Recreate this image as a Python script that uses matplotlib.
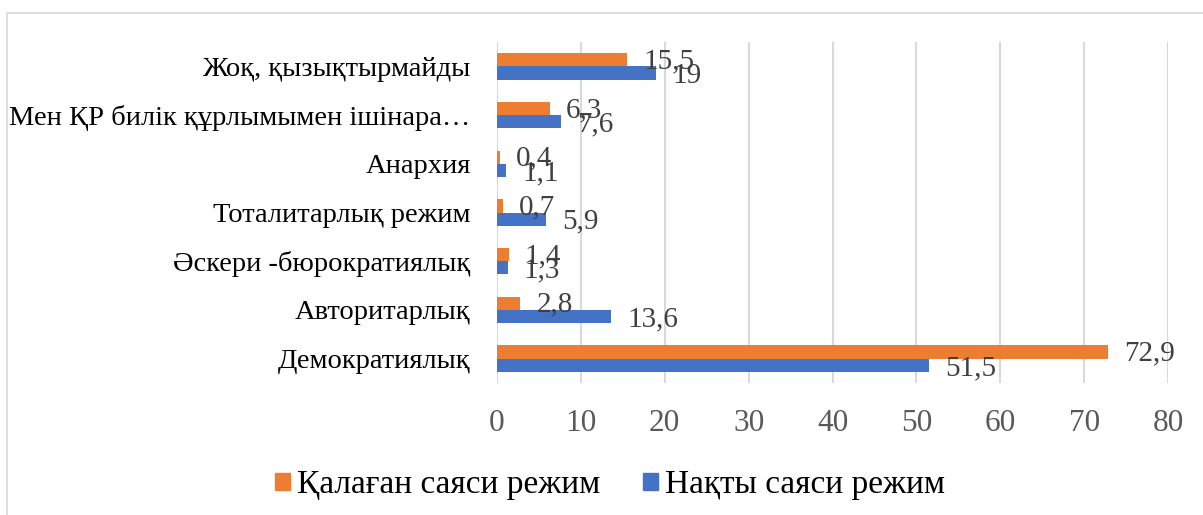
import numpy as np
import matplotlib
matplotlib.use('Agg')
from matplotlib import pyplot as plt
from matplotlib.patches import Rectangle, Patch

plt.rcParams['font.family'] = ['Liberation Serif', 'DejaVu Serif']

# categories listed bottom -> top
categories = ['Демократиялық', 'Авторитарлық', 'Әскери -бюрократиялық',
              'Тоталитарлық режим', 'Анархия',
              'Мен ҚР билік құрлымымен ішінара…', 'Жоқ, қызықтырмайды']
desired = [72.9, 2.8, 1.4, 0.7, 0.4, 6.3, 15.5]   # Қалаған саяси режим
actual = [51.5, 13.6, 1.3, 5.9, 1.1, 7.6, 19]     # Нақты саяси режим
ticks = [0, 10, 20, 30, 40, 50, 60, 70, 80]

orange = '#ED7D31'
blue = '#4472C4'

fig = plt.figure(figsize=(12.03, 5.15), dpi=100)
ax = fig.add_axes([497/1203, 1 - 383/515, (1168 - 497)/1203, (383 - 42)/515])

y = np.arange(len(categories))
h = 0.27
ax.barh(y + h/2, desired, height=h, color=orange, label='Қалаған саяси режим', zorder=3)
ax.barh(y - h/2, actual, height=h, color=blue, label='Нақты саяси режим', zorder=3)

def fmt(v):
    return ('%g' % v).replace('.', ',')

for yy, v in zip(y + h/2, desired):
    ax.annotate(fmt(v), (v, yy), xytext=(11.5, -1), textcoords='offset points',
                va='center', ha='left', fontsize=21, color='#404040', zorder=4)
for yy, v in zip(y - h/2, actual):
    ax.annotate(fmt(v), (v, yy), xytext=(11.5, -2), textcoords='offset points',
                va='center', ha='left', fontsize=21, color='#404040', zorder=4)

ax.set_xlim(0, 80)
ax.set_ylim(-0.5, len(categories) - 0.5)
ax.set_xticks(ticks)
ax.set_xticklabels([str(t) for t in ticks], fontsize=22.5, color='#595959')
ax.set_yticks(y)
ax.set_yticklabels(categories, fontsize=20.5, color='#000000')
ax.tick_params(axis='both', length=0)
ax.tick_params(axis='x', pad=19)
ax.tick_params(axis='y', pad=19)
ax.grid(axis='x', color='#D9D9D9', linewidth=1.5, zorder=0)
for s in ax.spines.values():
    s.set_visible(False)

fig.legend(handles=[Patch(color=orange, label='Қалаған саяси режим'),
                    Patch(color=blue, label='Нақты саяси режим')],
           loc='center', bbox_to_anchor=(0.507, 0.058), ncol=2, frameon=False,
           fontsize=24, handlelength=0.45, handleheight=0.45, handletextpad=0.2,
           columnspacing=1.3)

fig.patches.append(Rectangle((7/1203, -0.1), 1.2, 1 - 13/515 + 0.1,
                             transform=fig.transFigure, fill=False,
                             edgecolor='#D9D9D9', linewidth=1.2))

fig.savefig('out.png', dpi=100)
